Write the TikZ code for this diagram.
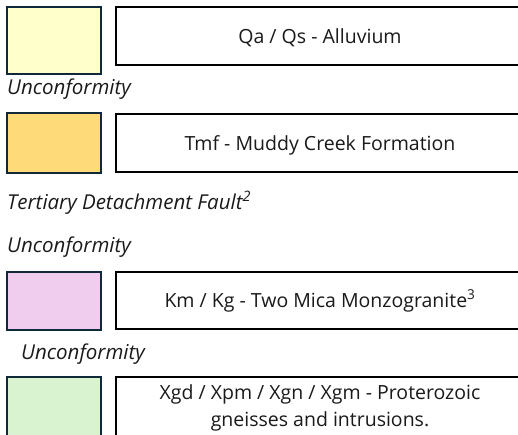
\documentclass[tikz,border=0pt]{standalone}
\usepackage{fontspec}
\setmainfont{Open Sans}
\begin{document}
\begin{tikzpicture}[x=1pt,y=-1pt,
  swatch/.style={draw=swatchedge,line width=2.5pt},
  unitbox/.style={draw=black,line width=2.5pt,fill=white},
  unitname/.style={font=\fontsize{19.5}{27}\selectfont,align=center,text=textgray,anchor=base,inner sep=0pt},
  note/.style={font=\fontsize{20.5}{24}\selectfont\itshape,anchor=base west,text=textgray,inner sep=0pt}]
\definecolor{swatchedge}{HTML}{10293A}
\definecolor{textgray}{HTML}{1A1A1A}
\definecolor{alluvium}{HTML}{FFFFCC}
\definecolor{muddy}{HTML}{FFDA78}
\definecolor{granite}{HTML}{F0CDEE}
\definecolor{gneiss}{HTML}{D9F2D0}
\useasboundingbox (0,0) rectangle (518,434);
\begin{scope}
\clip (0,0) rectangle (518,434);
% colour swatches
\draw[swatch,fill=alluvium] (7,7) rectangle (101,74);
\draw[swatch,fill=muddy]    (7,113) rectangle (101,173);
\draw[swatch,fill=granite]  (7,272) rectangle (101,330);
\draw[swatch,fill=gneiss]   (7,377) rectangle (101,460);
% unit boxes
\draw[unitbox] (116,7) rectangle (526,65);
\draw[unitbox] (116,114) rectangle (526,172);
\draw[unitbox] (116,272) rectangle (526,329);
\draw[unitbox] (116,377) rectangle (526,460);
\end{scope}
\node[unitname] (qa) at (320,43) {Qa / Qs - Alluvium};
\node[unitname] (tmf) at (320,150) {Tmf - Muddy Creek Formation};
\node[unitname] (km) at (320,307) {Km / Kg - Two Mica Monzogranite\textsuperscript{3}};
\node[unitname] (xg) at (320,426) {Xgd / Xpm / Xgn / Xgm - Proterozoic\\gneisses and intrusions.};
% contact notes
\node[note] (u1) at (7,94) {Unconformity};
\node[note] (tdf) at (7,209) {Tertiary Detachment Fault\textsuperscript{2}};
\node[note] (u2) at (7,252) {Unconformity};
\node[note] (u3) at (21,359) {Unconformity};
\end{tikzpicture}
\end{document}
